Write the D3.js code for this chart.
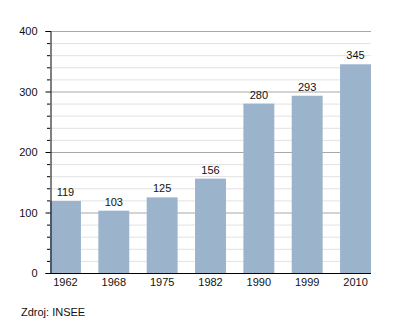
<!DOCTYPE html>
<html><head><meta charset="utf-8">
<script src="https://cdn.jsdelivr.net/npm/d3@7"></script>
<style>body{margin:0;background:#fff}svg{display:block}text{font-family:"Liberation Sans",Arial,sans-serif;font-size:11px;fill:#111}</style>
</head><body>
<script>
const years = ["1962","1968","1975","1982","1990","1999","2010"];
const values = [119,103,125,156,280,293,345];
const yTicks = [0,100,200,300,400];
const source = "Zdroj: INSEE";

const W=400,H=323;
const svg=d3.select("body").append("svg").attr("width",W).attr("height",H);
const x=d3.scaleBand().domain(years).range([50,371]).paddingInner(0.36).paddingOuter(0);
const y=d3.scaleLinear().domain([0,400]).range([273,31]);

const minor=d3.range(0,401,20).filter(v=>v%100!==0);
svg.append("g").selectAll("line").data(minor).join("line")
 .attr("x1",50).attr("x2",371).attr("y1",d=>y(d)+0.5).attr("y2",d=>y(d)+0.5)
 .attr("stroke","#e2e2e2");
svg.append("g").selectAll("line").data(yTicks.filter(v=>v>0)).join("line")
 .attr("x1",50).attr("x2",371).attr("y1",d=>y(d)+0.5).attr("y2",d=>y(d)+0.5)
 .attr("stroke","#a8a8a8");

svg.append("g").selectAll("rect").data(values).join("rect")
 .attr("x",(d,i)=>x(years[i])).attr("width",x.bandwidth())
 .attr("y",d=>y(d)).attr("height",d=>y(0)-y(d)).attr("fill","#9bb4cc");

svg.append("g").selectAll("text").data(values).join("text")
 .attr("x",(d,i)=>x(years[i])+x.bandwidth()/2).attr("y",d=>y(d)-5)
 .attr("text-anchor","middle").text(d=>d);

// y axis
const ya=svg.append("g").attr("transform","translate(50.5,0)")
 .call(d3.axisLeft(y).tickValues(yTicks).tickSize(5).tickPadding(8));
ya.select(".domain").attr("stroke","#000");
ya.selectAll(".tick text").attr("fill","#111").style("font-size","11px").style("font-family","Liberation Sans, Arial, sans-serif");
svg.append("g").selectAll("line").data(minor).join("line")
 .attr("x1",47).attr("x2",50).attr("y1",d=>y(d)+0.5).attr("y2",d=>y(d)+0.5).attr("stroke","#000");

// x axis
const xa=svg.append("g").attr("transform","translate(0,273.5)")
 .call(d3.axisBottom(x).tickSize(0).tickPadding(5));
xa.select(".domain").attr("stroke","#000").attr("d","M50,0H371");
xa.selectAll(".tick text").attr("fill","#111").style("font-size","11px").style("font-family","Liberation Sans, Arial, sans-serif");

svg.append("text").attr("x",21).attr("y",316).text(source);
</script>
</body></html>
